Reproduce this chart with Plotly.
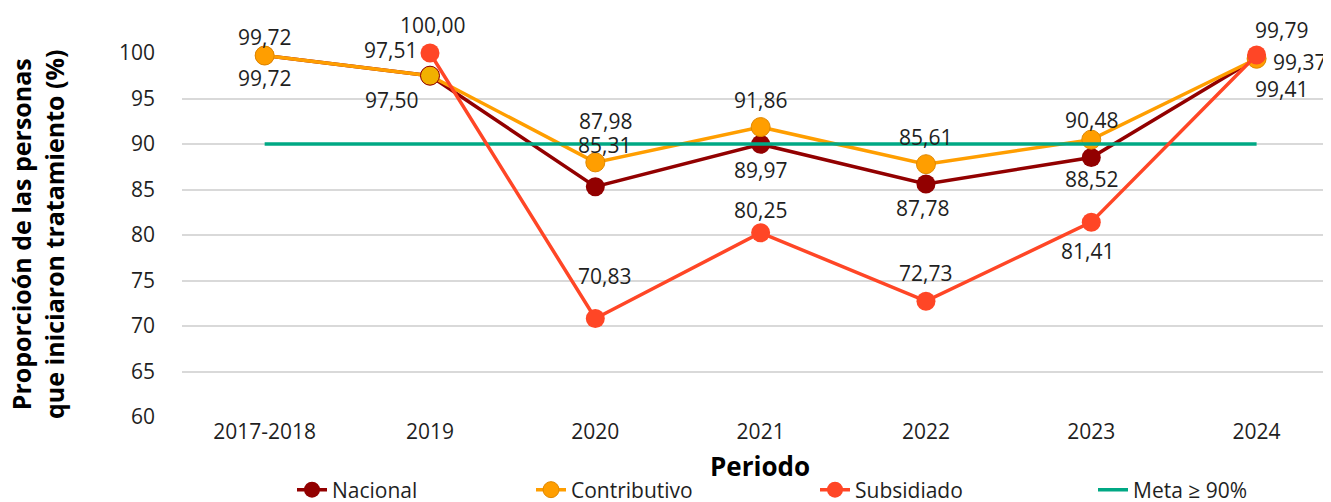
import plotly.graph_objects as go

periodos = ["2017-2018", "2019", "2020", "2021", "2022", "2023", "2024"]
nacional = [99.72, 97.50, 85.31, 89.97, 85.61, 88.52, 99.41]
contributivo = [99.72, 97.51, 87.98, 91.86, 87.78, 90.48, 99.37]
subsidiado = [None, 100.00, 70.83, 80.25, 72.73, 81.41, 99.79]
meta = [90, 90, 90, 90, 90, 90, 90]
y_ticks = [60, 65, 70, 75, 80, 85, 90, 95, 100]

# label offsets in px (dx, dy down-positive) - styling only
off_nac = [(0, 22), (-38, 24), (9, -42), (0, 26), (0, -47), (0, 22), (25, 31)]
off_con = [(0, -19), (-39, -26), (10, -41), (0, -27), (-3, 44), (0, -20), (43, 3)]
off_sub = [None, (3, -28), (9, -42), (0, -23), (0, -28), (-4, 29), (25, -25)]

C_NAC = "#920000"
C_CON = "#FF9E00"
C_SUB = "#FF4626"
C_META = "#00A884"
FONT = "Open Sans"
TXT = "#1f1f1f"

# the page body adds an 8px offset; the figure fills the rest of the window
OFF = 8
W, H = 1331 - OFF, 502 - OFF
L, R, T, B = 182 - OFF, 0, 53 - OFF, 85
plot_w = W - L - R
plot_h = H - T - B


def px_x(p):
    # p: page pixel
    return (p - OFF - L) / plot_w


def px_y(p):
    return (H - B - (p - OFF)) / plot_h


fig = go.Figure()

con_fill = [C_CON] * 7
con_fill[1] = "#F2B000"
con_line = ["#E08800"] * 7
con_line[1] = C_NAC

fig.add_trace(go.Scatter(
    x=periodos, y=nacional, name="Nacional", mode="lines+markers",
    line=dict(color=C_NAC, width=3.5),
    marker=dict(size=19, color=C_NAC),
    cliponaxis=False, legend="legend",
))
fig.add_trace(go.Scatter(
    x=periodos, y=contributivo, name="Contributivo", mode="lines+markers",
    line=dict(color=C_CON, width=3.5),
    marker=dict(size=19, color=con_fill, line=dict(color=con_line, width=1)),
    cliponaxis=False, legend="legend2",
))
fig.add_trace(go.Scatter(
    x=periodos, y=meta, name="Meta ≥ 90%", mode="lines",
    line=dict(color=C_META, width=3.5),
    cliponaxis=False, legend="legend4",
))
fig.add_trace(go.Scatter(
    x=periodos, y=subsidiado, name="Subsidiado", mode="lines+markers",
    line=dict(color=C_SUB, width=3.5),
    marker=dict(size=19, color=C_SUB),
    cliponaxis=False, legend="legend3",
))


def fmt(v):
    return f"{v:.2f}".replace(".", ",")


annotations = []
for series, offs in ((nacional, off_nac), (contributivo, off_con), (subsidiado, off_sub)):
    for i, (v, o) in enumerate(zip(series, offs)):
        if v is None or o is None:
            continue
        annotations.append(dict(
            x=i, y=v, xref="x", yref="y", text=fmt(v), showarrow=False,
            xshift=o[0], yshift=-o[1], font=dict(family=FONT, size=21, color=TXT),
        ))

annotations.append(dict(
    x=px_x(37), y=0.5, xref="paper", yref="paper", textangle=-90,
    text="<b>Proporcioón de las personas<br>que iniciaron tratamiento (%)</b>",
    showarrow=False, font=dict(family=FONT, size=25, color="#000000"),
    xanchor="center", yanchor="middle",
))
annotations.append(dict(
    x=px_x(760), y=px_y(466), xref="paper", yref="paper",
    text="<b>Periodo</b>", showarrow=False,
    font=dict(family=FONT, size=26, color="#000000"),
    xanchor="center", yanchor="middle",
))

leg_text_start = [332, 571, 855, 1133]
leg_common = dict(orientation="h", yref="container", xref="container",
                  yanchor="middle", y=1 - (490 - OFF) / H, xanchor="left",
                  font=dict(family=FONT, size=21, color=TXT), bgcolor="rgba(0,0,0,0)",
                  borderwidth=0)


def leg_x(ts):
    return (ts - OFF - 40) / W


fig.update_layout(
    width=W, height=H,
    margin=dict(l=L, r=R, t=T, b=B, pad=0, autoexpand=False),
    plot_bgcolor="white", paper_bgcolor="white",
    showlegend=True,
    legend=dict(x=leg_x(leg_text_start[0]), **leg_common),
    legend2=dict(x=leg_x(leg_text_start[1]), **leg_common),
    legend3=dict(x=leg_x(leg_text_start[2]), **leg_common),
    legend4=dict(x=leg_x(leg_text_start[3]), **leg_common),
    annotations=annotations,
    xaxis=dict(
        type="category", range=[-0.5, 6.45], showgrid=False, zeroline=False,
        showline=False, ticks="", automargin=False,
        tickfont=dict(family=FONT, size=21, color=TXT),
    ),
    yaxis=dict(
        range=[60, 100], tickvals=y_ticks, showgrid=True, gridcolor="#D9D9D9",
        gridwidth=2, zeroline=False, showline=False, ticks="", automargin=False,
        ticklabelstandoff=26, tickfont=dict(family=FONT, size=21, color=TXT),
    ),
)

fig.write_html("out.html")
